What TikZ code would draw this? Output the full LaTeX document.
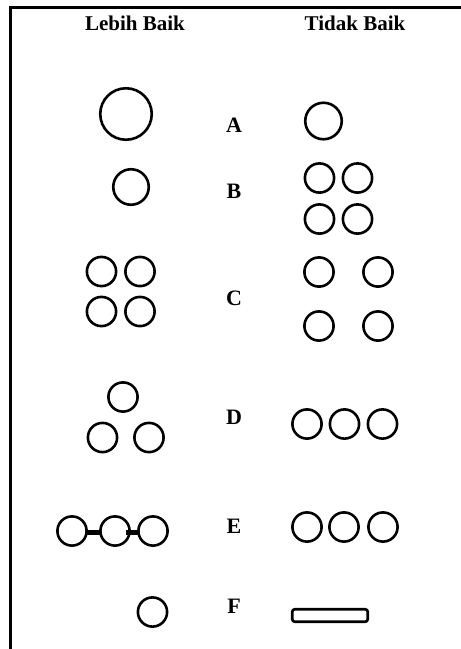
\documentclass[tikz,border=0pt]{standalone}
\usepackage{fontspec}
\setmainfont{Liberation Serif}
\usetikzlibrary{positioning}

\begin{document}
\begin{tikzpicture}[x=1pt, y=-1pt,
        bulat/.style={draw, circle, line width=2.6pt, inner sep=0pt, outer sep=0pt, minimum size=#1},
        bulat/.default=29.2,
        judul/.style={font=\fontsize{21}{25}\selectfont\bfseries, anchor=base},
        huruf/.style={font=\fontsize{22}{26}\selectfont\bfseries, anchor=base},
        batang/.style={line width=4.5pt},
        pipa/.style={draw, rounded corners=2.5pt, line width=2.6pt, inner sep=0pt,
            minimum width=75.5pt, minimum height=12.5pt},
        bingkai/.style={line width=3pt}
    ]
        \useasboundingbox (0,0) rectangle (461,649);
        \draw[bingkai] (10.5,652) -- (10.5,7.5) -- (464,7.5);

        % judul kolom
        \node[judul] (baik) at (135,30) {Lebih Baik};
        \node[judul] (tidak) at (355,30) {Tidak Baik};

        % huruf baris
        \node[huruf] (hA) at (234,132) {A};
        \node[huruf] (hB) at (234,198) {B};
        \node[huruf] (hC) at (234,305) {C};
        \node[huruf] (hD) at (234,424) {D};
        \node[huruf] (hE) at (234,533) {E};
        \node[huruf] (hF) at (234,613) {F};

        % A
        \node[bulat=51.5] (a1) at (126,114) {};
        \node[bulat=36.5] (a2) at (323.5,121) {};

        % B
        \node[bulat=35.5] (b1) at (131,187) {};
        \node[bulat] (b2) at (319.5,178) {};
        \node[bulat] (b3) at (357.5,178) {};
        \node[bulat] (b4) at (319.5,219) {};
        \node[bulat] (b5) at (357.5,219) {};

        % C
        \node[bulat] (c1) at (101.5,271.5) {};
        \node[bulat] (c2) at (140,271.5) {};
        \node[bulat] (c3) at (101.5,311.5) {};
        \node[bulat] (c4) at (140,311.5) {};
        \node[bulat] (c5) at (319,272) {};
        \node[bulat] (c6) at (378,272) {};
        \node[bulat] (c7) at (319,326) {};
        \node[bulat] (c8) at (378,326) {};

        % D
        \node[bulat] (d1) at (123,397) {};
        \node[bulat] (d2) at (102.5,437.5) {};
        \node[bulat] (d3) at (149,437.5) {};
        \node[bulat] (d4) at (307,424) {};
        \node[bulat] (d5) at (344.5,424) {};
        \node[bulat] (d6) at (382.5,424) {};

        % E
        \node[bulat] (e1) at (72,531) {};
        \node[bulat] (e2) at (115,531) {};
        \node[bulat] (e3) at (153,531) {};
        \draw[batang] ([yshift=-1.5pt]e1.east) -- ([yshift=-1.5pt]e2.west);
        \draw[batang] ([xshift=-4pt,yshift=-1.5pt]e2.east) -- ([yshift=-1.5pt]e3.west);
        \node[bulat] (e4) at (307,527) {};
        \node[bulat] (e5) at (344,527) {};
        \node[bulat] (e6) at (383,527) {};

        % F
        \node[bulat] (f1) at (152.5,612) {};
        \node[pipa] (f2) at (330,615.5) {};
    \end{tikzpicture}
\end{document}
